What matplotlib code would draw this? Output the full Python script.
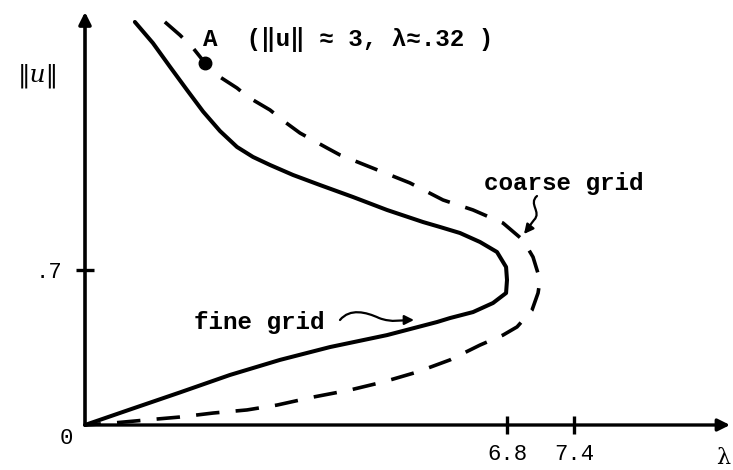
import numpy as np
import matplotlib
matplotlib.use("Agg")
import matplotlib.pyplot as plt
from matplotlib.patches import FancyArrowPatch
from matplotlib.path import Path

# Solution branches (lambda, ||u||), traced from the upper end down to the origin
lam_fine = [0.133, 0.181, 0.227, 0.272, 0.315, 0.642, 1.007, 1.350, 1.715, 2.208,
            2.788, 3.496, 4.225, 4.998, 5.362, 5.791, 6.221, 6.585, 6.780, 6.800,
            6.780, 6.500, 6.071, 5.577, 5.298, 4.225, 3.002, 1.929, 0.856, 0.253,
            0.120, 0.0]
u_fine = [3.456, 3.222, 2.956, 2.700, 2.460, 2.244, 2.067, 1.956, 1.867, 1.756,
          1.644, 1.511, 1.367, 1.233, 1.178, 1.111, 1.011, 0.900, 0.733, 0.655,
          0.596, 0.551, 0.510, 0.483, 0.465, 0.406, 0.352, 0.294, 0.226, 0.147,
          0.070, 0.0]

lam_coarse = [0.213, 0.253, 0.288, 0.320, 0.642, 1.007, 1.243, 1.715, 2.037, 2.358,
              2.938, 3.217, 3.646, 4.719, 5.427, 6.071, 6.714, 6.943, 7.033, 7.096,
              7.078, 7.024, 6.890, 6.714, 6.221, 5.577, 4.869, 4.139, 3.431, 2.637,
              1.865, 1.221, 0.492, 0.253, 0.165, 0.075, 0.0]
u_coarse = [3.456, 3.311, 3.167, 3.000, 2.844, 2.722, 2.622, 2.478, 2.344, 2.222,
            2.056, 1.978, 1.889, 1.667, 1.478, 1.367, 1.222, 1.033, 0.844, 0.655,
            0.596, 0.519, 0.443, 0.406, 0.361, 0.294, 0.239, 0.194, 0.158, 0.126,
            0.090, 0.068, 0.054, 0.036, 0.023, 0.009, 0.0]

# Marked point A on the coarse-grid branch
point_a_lam = 0.32
point_a_u = 3.0

x_ticks = [6.8, 7.4]
x_tick_labels = ["6.8", "7.4"]
y_ticks = [0.7]
y_tick_labels = [".7"]

# Schematic (not-to-scale) axes: piecewise-linear mapping of values to drawing space
_xd = [-10.0, 0.0, 0.32, 6.8, 7.4, 20.0]
_xp = [-3750.0, 0.0, 120.0, 422.0, 489.0, 1896.0]
_yd = [-10.0, 0.0, 0.7, 3.0, 20.0]
_yp = [-2214.0, 0.0, 155.0, 362.0, 1892.0]


def x_fwd(v):
    return np.interp(v, _xd, _xp)


def x_inv(p):
    return np.interp(p, _xp, _xd)


def y_fwd(v):
    return np.interp(v, _yd, _yp)


def y_inv(p):
    return np.interp(p, _yp, _yd)


W, H = 733, 470
fig = plt.figure(figsize=(W / 100, H / 100), dpi=100)
ax = fig.add_axes([85 / W, (H - 425) / H, 645 / W, 413 / H])
ax.set_xscale("function", functions=(x_fwd, x_inv))
ax.set_yscale("function", functions=(y_fwd, y_inv))
ax.set_xlim(0, float(x_inv(645)))
ax.set_ylim(0, float(y_inv(413)))

mono = ["Liberation Mono", "DejaVu Sans Mono"]
ink = "black"

ax.plot(lam_fine, u_fine, color=ink, lw=2.9, solid_capstyle="round",
        solid_joinstyle="round", clip_on=False)
ax.plot(lam_coarse, u_coarse, color=ink, lw=2.6, linestyle=(0, (6.5, 4.5)),
        dash_capstyle="butt", dash_joinstyle="round", clip_on=False)
ax.plot([point_a_lam], [point_a_u], "o", color=ink, ms=9, clip_on=False)

# Axes drawn as arrows
for s in ax.spines.values():
    s.set_visible(False)
ax.annotate("", xy=(1.0, 0), xytext=(0, 0), xycoords="axes fraction",
            arrowprops=dict(arrowstyle="-|>", lw=2.4, color=ink, mutation_scale=18,
                            shrinkA=0, shrinkB=0))
ax.annotate("", xy=(0, 1.0), xytext=(0, 0), xycoords="axes fraction",
            arrowprops=dict(arrowstyle="-|>", lw=2.6, color=ink, mutation_scale=18,
                            shrinkA=0, shrinkB=0))

ax.set_xticks(x_ticks)
ax.set_xticklabels(x_tick_labels, family=mono, fontsize=16)
ax.set_yticks(y_ticks)
ax.set_yticklabels(y_tick_labels, family=mono, fontsize=16)
ax.minorticks_off()
ax.tick_params(axis="x", direction="inout", length=13, width=2.4, pad=7)
ax.tick_params(axis="y", direction="inout", length=13, width=2.4, pad=10)


def fpos(x, y):
    return x / W, 1 - y / H


fig.text(*fpos(60, 438), "0", family=mono, fontsize=16, ha="left", va="center")
fig.text(*fpos(716, 458), "λ", family=["DejaVu Serif"], fontsize=16,
         ha="left", va="center")
fig.text(*fpos(18, 76), "‖u‖", family=["DejaVu Serif"], style="italic",
         fontsize=18, ha="left", va="center")

fig.text(*fpos(203, 40), "A  (‖u‖ ≈ 3, λ≈.32 )", family=mono, fontsize=17.5,
         fontweight="bold", ha="left", va="center")
fig.text(*fpos(484, 183), "coarse grid", family=mono, fontsize=17.5,
         fontweight="bold", ha="left", va="center")
fig.text(*fpos(194, 323), "fine grid", family=mono, fontsize=17.5,
         fontweight="bold", ha="left", va="center")


def wiggle_arrow(pts):
    verts = [fpos(x, y) for x, y in pts]
    codes = [Path.MOVETO] + [Path.CURVE4] * (len(verts) - 1)
    arr = FancyArrowPatch(path=Path(verts, codes), arrowstyle="-|>",
                          mutation_scale=14, lw=1.6, color=ink,
                          transform=fig.transFigure)
    fig.patches.append(arr)


wiggle_arrow([(340, 320), (350, 308), (366, 312), (379, 318),
              (392, 323), (402, 320), (414, 320)])
wiggle_arrow([(537, 196), (528, 204), (542, 212), (534, 220),
              (530, 225), (528, 229), (524, 234)])

fig.savefig("out.png", dpi=100)
